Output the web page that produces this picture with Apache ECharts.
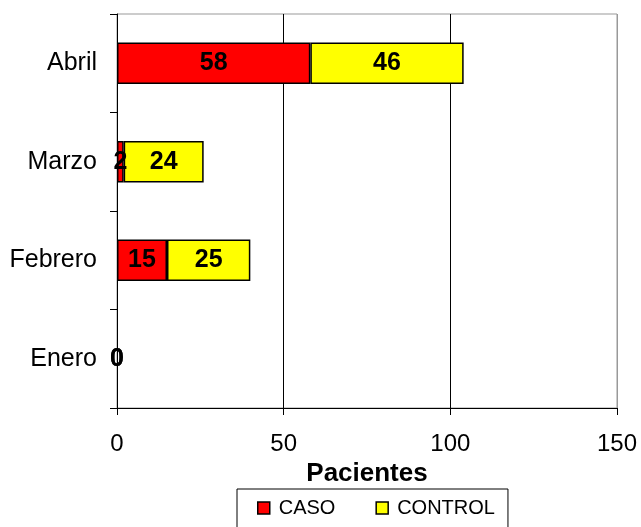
<!DOCTYPE html>
<html>
<head>
<meta charset="utf-8">
<script src="https://cdn.jsdelivr.net/npm/echarts@6/dist/echarts.min.js"></script>
<style>html,body{margin:0;padding:0;background:#fff}#c{width:641px;height:527px}</style>
</head>
<body>
<div id="c"></div>
<script>
var categories = ['Enero', 'Febrero', 'Marzo', 'Abril'];
var caso = [0, 15, 2, 58];
var control = [0, 25, 24, 46];
var xTicks = {min: 0, max: 150, interval: 50};
var axisName = 'Pacientes';
var seriesNames = ['CASO', 'CONTROL'];

var FONT = '"Liberation Sans", Arial, sans-serif';
var chart = echarts.init(document.getElementById('c'));
var labelStyle = {show: true, position: 'inside', color: '#000', fontWeight: 'bold', fontSize: 25, fontFamily: FONT};
function toItems(arr) {
  return arr.map(function (v) {
    return v === 0 ? {value: v, itemStyle: {borderWidth: 0}} : v;
  });
}
chart.setOption({
  animation: false,
  backgroundColor: '#fff',
  grid: {left: 117, right: 24, top: 14, bottom: 119, show: true, borderColor: '#999', borderWidth: 1, containLabel: false},
  xAxis: {
    type: 'value', min: xTicks.min, max: xTicks.max, interval: xTicks.interval,
    name: axisName, nameLocation: 'middle', nameGap: 53,
    nameTextStyle: {fontSize: 26, fontWeight: 'bold', color: '#000', fontFamily: FONT},
    axisLine: {show: true, lineStyle: {color: '#000', width: 1}},
    axisTick: {show: true, length: 7, lineStyle: {color: '#000'}},
    axisLabel: {fontSize: 24, color: '#000', fontFamily: FONT, margin: 24, lineHeight: 24},
    splitLine: {show: true, lineStyle: {color: ['#000', '#000', '#000', '#999'], width: 1}}
  },
  yAxis: {
    type: 'category', data: categories,
    axisLine: {show: true, lineStyle: {color: '#000', width: 1}},
    axisTick: {show: true, length: 7, alignWithLabel: false, lineStyle: {color: '#000'}},
    axisLabel: {fontSize: 25, color: '#000', fontFamily: FONT, margin: 20}
  },
  legend: {
    left: 237, top: 489, orient: 'horizontal',
    padding: [9, 13, 20, 20],
    borderColor: '#000', borderWidth: 1,
    itemWidth: 12, itemHeight: 12, itemGap: 40,
    icon: 'rect',
    itemStyle: {borderColor: '#000', borderWidth: 1.5},
    textStyle: {fontSize: 20, color: '#000', fontFamily: FONT, padding: [0, 0, 0, 4]},
    data: seriesNames
  },
  series: [
    {name: seriesNames[0], type: 'bar', stack: 'a', data: toItems(caso), barCategoryGap: '58%',
     itemStyle: {color: '#FF0000', borderColor: '#000', borderWidth: 1.5}, label: labelStyle},
    {name: seriesNames[1], type: 'bar', stack: 'a', data: toItems(control),
     itemStyle: {color: '#FFFF00', borderColor: '#000', borderWidth: 1.5}, label: labelStyle}
  ]
});
</script>
</body>
</html>
